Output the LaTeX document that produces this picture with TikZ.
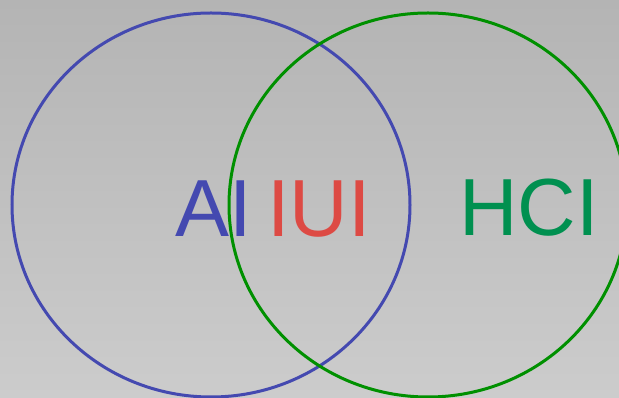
\documentclass[tikz,border=0pt]{standalone}
\usepackage{fontspec}
\setmainfont{Liberation Sans}
\definecolor{bgtop}{HTML}{B4B4B4}
\definecolor{bgbot}{HTML}{CCCCCC}
\definecolor{aiblue}{HTML}{4449B0}
\definecolor{iuired}{HTML}{DD4A44}
\definecolor{hcigreen}{HTML}{009050}
\definecolor{circgreen}{HTML}{009000}
\begin{document}
\begin{tikzpicture}[x=1pt,y=1pt,
  lbl/.style={inner sep=0pt,anchor=base west,font=\fontsize{81}{81}\selectfont},
  ring/.style={line width=3pt}]
\useasboundingbox (0,0) rectangle (619,398);
\shade[top color=bgtop,bottom color=bgbot] (0,0) rectangle (619,398);
\node[lbl,text=aiblue] (ai) at (175,161) {AI};
\node[lbl,text=iuired] (iui) at (267,161) {IUI};
\node[lbl,text=hcigreen] (hci) at (459,162) {HCI};
\begin{scope}
\clip (0,0) rectangle (619,398);
\draw[ring,aiblue] (211,193) ellipse [x radius=199,y radius=192];
\draw[ring,circgreen] (428,193) ellipse [x radius=199,y radius=192];
\end{scope}
\end{tikzpicture}
\end{document}
